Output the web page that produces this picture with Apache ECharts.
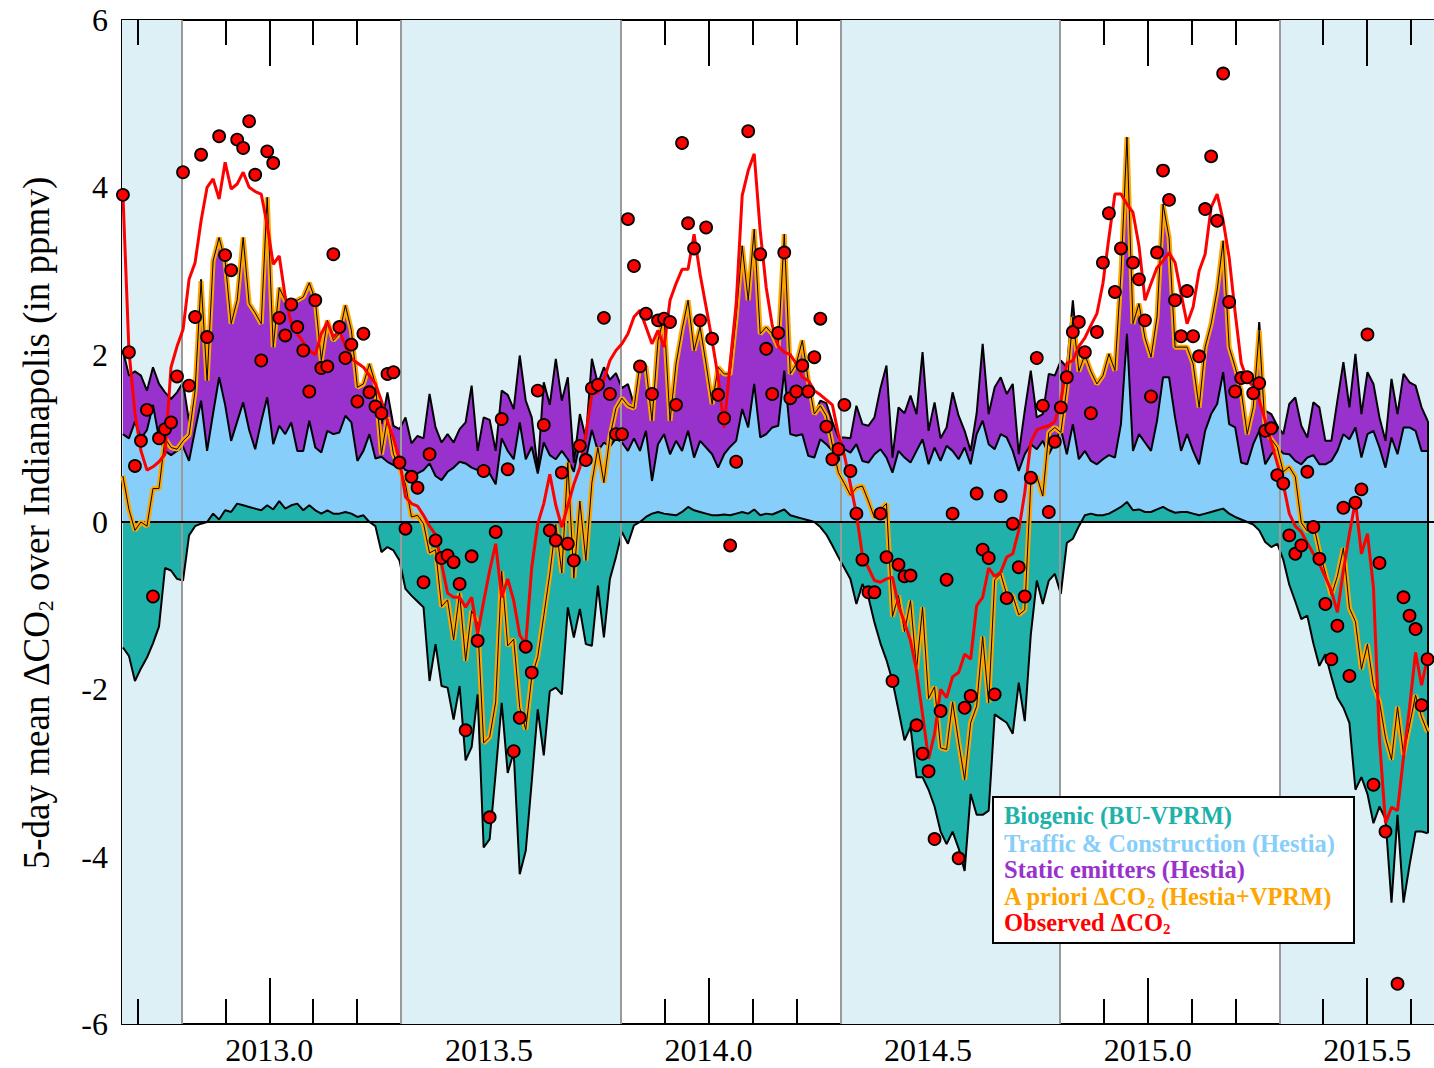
<!DOCTYPE html>
<html>
<head>
<meta charset="utf-8">
<title>5-day mean ΔCO2 over Indianapolis</title>
<script src="https://cdn.jsdelivr.net/npm/echarts@6/dist/echarts.min.js"></script>
<style>
  html, body { margin: 0; padding: 0; background: #ffffff; }
  #chart { width: 1434px; height: 1068px; }
</style>
</head>
<body>
<div id="chart"></div>
<script>
// ---- time grid: consecutive 5-day means starting 1 Sep 2012 ----
const START_YEAR = 2012.6667;
const STEP_YEARS = 5 / 365.25;

// ---- components of the a priori enhancement (ppmv) ----
const biogenic = [
  -1.50,-1.60,-1.90,-1.75,-1.62,-1.45,-1.25,-0.55,-0.58,-0.68,
  -0.70,-0.16,-0.05,-0.02,0.00,0.10,0.03,0.14,0.12,0.22,
  0.20,0.18,0.16,0.14,0.20,0.15,0.25,0.16,0.20,0.22,
  0.14,0.20,0.14,0.10,0.14,0.10,0.10,0.12,0.10,0.06,
  0.08,0.00,-0.05,-0.36,-0.30,-0.34,-0.46,-0.80,-0.88,-0.95,
  -1.02,-1.90,-1.46,-1.96,-1.98,-2.36,-1.96,-2.85,-2.69,-2.06,
  -3.89,-3.79,-3.00,-2.16,-3.00,-2.75,-4.21,-3.93,-3.10,-2.24,
  -2.79,-2.02,-1.98,-2.06,-1.02,-1.38,-1.04,-1.46,-1.48,-0.76,
  -1.38,-0.68,-0.42,-0.12,-0.26,-0.04,0.00,0.06,0.10,0.12,
  0.10,0.09,0.08,0.12,0.18,0.14,0.12,0.10,0.08,0.08,
  0.09,0.08,0.10,0.12,0.10,0.15,0.08,0.10,0.09,0.12,
  0.15,0.08,0.06,0.04,0.02,0.00,-0.06,-0.15,-0.28,-0.42,
  -0.55,-0.68,-0.98,-0.74,-0.90,-1.20,-1.45,-1.65,-1.90,-2.25,
  -2.61,-2.45,-3.05,-3.05,-3.20,-3.40,-3.70,-3.85,-3.70,-3.90,
  -4.17,-3.25,-3.50,-3.50,-3.45,-2.30,-2.35,-2.40,-2.53,-1.92,
  -2.38,-1.35,-0.70,-0.98,-0.70,-0.62,-0.86,-0.25,-0.20,-0.05,
  0.08,0.10,0.08,0.08,0.10,0.14,0.18,0.24,0.14,0.15,
  0.12,0.12,0.15,0.18,0.14,0.11,0.12,0.12,0.10,0.08,
  0.10,0.12,0.14,0.16,0.10,0.06,0.03,0.00,-0.03,-0.10,
  -0.24,-0.30,-0.26,-0.45,-0.75,-0.95,-1.16,-1.12,-1.45,-1.72,
  -1.58,-1.85,-2.10,-2.22,-2.40,-3.20,-3.05,-3.25,-3.60,-3.40,
  -3.55,-4.55,-3.50,-4.55,-4.10,-3.70,-3.70,-3.72
];

const traffic = [
  1.05,1.00,1.20,1.00,1.10,1.40,1.00,0.85,0.80,0.85,
  0.90,0.73,1.10,1.45,0.85,1.20,1.70,1.26,0.85,0.98,
  1.23,0.92,0.71,1.06,1.29,0.78,0.90,0.89,0.99,0.63,
  0.71,1.01,0.75,0.73,0.95,0.95,0.97,1.15,1.09,0.67,
  0.77,1.05,0.76,0.78,0.72,0.68,0.70,0.62,0.60,0.58,
  0.62,0.70,0.55,0.50,0.60,0.65,0.72,0.70,0.65,0.62,
  0.60,0.58,0.45,1.00,0.85,0.75,1.19,0.75,0.90,0.58,
  0.95,0.80,0.75,0.85,0.75,0.60,0.95,0.75,1.10,0.85,
  0.95,0.90,1.00,0.95,0.85,1.00,0.85,1.03,0.39,0.81,
  0.95,0.72,0.89,0.73,0.91,0.63,0.85,0.79,0.73,0.57,
  0.72,0.82,0.87,1.23,1.03,1.50,0.93,0.95,1.04,1.03,
  1.66,0.97,0.97,1.01,0.77,0.77,0.99,0.93,0.85,0.73,
  0.87,0.83,0.93,0.73,0.71,0.81,0.87,0.77,0.59,0.85,
  0.77,0.71,0.85,0.99,0.69,0.89,0.73,0.91,0.85,0.75,
  0.89,0.69,1.05,1.21,0.93,0.87,1.05,1.01,0.85,0.61,
  0.81,0.93,0.87,0.97,0.81,0.95,1.11,0.81,1.17,0.75,
  0.77,0.63,0.61,0.67,0.70,0.63,0.99,2.01,0.71,0.90,
  0.83,0.73,1.06,1.55,1.59,1.14,0.73,0.93,0.75,0.61,
  0.99,1.17,1.27,1.63,1.07,1.07,0.68,0.69,0.93,1.09,
  0.69,0.81,0.89,0.82,0.81,0.73,0.69,0.77,0.80,0.69,
  0.69,0.73,0.85,1.05,0.99,1.13,0.77,1.05,1.09,0.89,
  0.65,1.01,0.81,1.13,1.13,1.09,0.85,0.85
];

const staticEmitters = [
  1.00,0.75,0.60,0.75,0.47,0.45,0.65,0.70,0.67,0.70,
  0.77,0.47,0.52,1.45,0.84,1.82,1.67,1.72,1.40,1.45,
  1.97,1.51,1.63,1.17,2.39,1.16,1.65,1.60,1.42,1.80,
  1.84,1.65,1.76,1.10,1.32,1.12,1.18,1.32,1.10,0.88,
  0.80,0.84,0.94,0.39,0.83,0.47,0.41,0.63,0.34,0.45,
  0.38,0.83,0.58,0.45,0.45,0.30,0.39,0.49,0.98,0.23,
  0.65,0.64,0.40,0.57,0.67,0.60,0.80,0.70,0.35,0.05,
  0.72,0.60,1.20,0.60,0.98,0.11,0.34,0.25,0.85,0.80,
  0.90,0.80,0.78,0.65,0.80,0.40,1.04,0.76,0.72,1.24,
  1.40,0.40,0.92,1.45,1.56,1.28,1.36,1.00,0.60,1.20,
  0.96,0.87,1.48,1.95,1.52,1.85,1.24,1.28,1.12,0.94,
  1.63,0.72,0.86,1.12,0.90,0.52,0.46,0.49,0.35,0.28,
  0.14,0.17,0.46,0.44,0.44,0.44,0.73,1.10,0.18,0.52,
  0.53,0.80,0.44,1.04,0.40,0.54,0.27,0.22,0.70,0.52,
  0.20,0.16,0.25,0.92,0.36,0.74,0.68,0.52,0.80,0.20,
  0.52,0.88,0.38,0.32,0.96,0.80,0.82,1.04,1.48,1.10,
  1.15,1.07,0.96,1.00,1.21,1.04,1.79,2.35,1.52,1.56,
  1.25,1.12,1.24,2.07,1.67,0.84,1.24,1.04,1.04,0.68,
  1.00,1.08,1.36,1.57,0.92,0.72,0.86,0.36,0.47,1.30,
  0.64,0.48,0.26,0.23,0.60,0.76,0.46,0.24,0.63,0.68,
  0.28,0.24,0.60,0.86,0.38,0.88,0.52,0.74,0.56,0.36,
  0.32,0.70,0.48,0.64,0.54,0.54,0.52,0.36
];

// ---- observations: running curve and individual 5-day means (ppmv) ----
const observedCurve = [
  3.92,2.05,1.30,0.85,0.62,0.66,0.72,0.81,1.85,2.10,
  2.30,2.90,3.10,3.60,4.00,4.10,3.86,4.30,3.98,4.04,
  4.18,4.00,3.95,3.92,3.55,3.08,3.18,2.69,2.37,2.25,
  2.15,2.05,2.00,2.25,2.39,2.21,2.29,2.10,1.95,1.90,
  1.85,1.75,1.65,1.45,1.20,1.00,0.75,0.30,0.22,0.19,
  0.08,-0.05,-0.15,-0.50,-0.85,-0.90,-0.90,-1.02,-0.90,-1.34,
  -0.95,-0.58,-0.26,-0.90,-0.68,-0.94,-1.35,-1.46,-0.54,-0.02,
  0.22,0.57,0.20,-0.06,0.20,0.45,0.65,1.05,1.53,1.55,
  1.70,1.93,2.05,2.13,2.25,2.45,2.53,2.33,2.13,2.29,
  2.09,2.65,2.85,3.02,3.02,3.44,2.96,2.57,2.17,1.73,
  1.13,1.90,2.60,3.90,4.20,4.40,3.48,2.80,2.35,2.10,
  2.03,2.00,1.89,1.73,1.69,1.57,1.52,1.46,1.40,1.05,
  0.80,0.45,0.10,-0.40,-0.55,-0.70,-0.72,-0.68,-0.66,-1.00,
  -1.20,-1.42,-1.78,-2.30,-2.83,-2.53,-2.00,-2.10,-1.85,-1.80,
  -1.58,-1.64,-1.00,-0.90,-0.55,-0.65,-0.60,-0.42,-0.38,-0.10,
  0.35,0.95,1.10,1.13,1.15,1.20,1.45,1.90,1.93,2.10,
  2.20,2.35,2.49,2.85,3.40,3.92,3.92,3.80,3.70,3.30,
  2.65,2.85,3.04,3.12,3.22,3.10,2.73,2.37,2.57,3.00,
  3.20,3.76,3.92,3.60,3.16,2.50,1.90,1.70,1.62,1.45,
  1.21,0.95,0.70,0.45,0.10,-0.05,-0.12,-0.25,-0.38,-0.50,
  -0.66,-0.82,-1.08,-0.58,-0.14,0.25,-0.38,-0.14,-0.78,-2.60,
  -3.60,-3.41,-3.45,-2.81,-2.22,-1.56,-1.95,-1.62
];

const observedPoints = [
  3.91,2.03,0.67,0.97,1.34,-0.89,1.00,1.11,1.19,1.74,
  4.18,1.63,2.45,4.39,2.21,null,4.61,3.19,3.01,4.57,
  4.47,4.79,4.15,1.93,4.43,4.29,2.44,2.23,2.60,2.33,
  2.05,1.56,2.65,1.84,1.86,3.20,2.33,1.96,2.12,1.44,
  2.25,1.55,1.38,1.30,1.77,1.79,0.71,-0.08,0.54,0.41,
  -0.72,0.81,-0.22,-0.43,-0.40,-0.48,-0.74,-2.49,-0.41,-1.42,
  0.61,-3.53,-0.12,1.23,0.63,-2.74,-2.34,-1.49,-1.80,1.57,
  1.16,-0.10,-0.22,0.59,-0.26,-0.46,0.91,0.74,1.60,1.64,
  2.44,1.53,1.05,1.05,3.62,3.06,1.86,2.49,1.53,2.41,
  2.43,2.39,1.40,4.53,3.57,3.27,2.41,3.52,2.19,1.52,
  1.24,-0.28,0.72,null,4.67,null,3.20,2.07,1.53,2.26,
  3.22,1.48,1.56,1.87,1.56,1.97,2.43,1.14,0.75,0.87,
  1.40,0.61,0.10,-0.45,-0.84,-0.84,0.10,-0.42,-1.90,-0.51,
  -0.65,-0.64,-2.43,-2.77,-2.98,-3.79,-2.26,-0.69,0.10,-4.02,
  -2.22,-2.08,0.34,-0.33,-0.43,-2.06,0.31,-0.91,-0.02,-0.54,
  -0.89,0.53,1.96,1.39,0.12,0.96,1.37,1.73,2.27,2.39,
  2.03,1.30,2.27,3.10,3.69,2.75,3.27,null,3.10,2.90,
  2.41,1.50,3.22,4.20,3.85,2.65,2.22,2.76,2.22,1.98,
  3.74,4.37,3.60,5.36,2.63,1.56,1.72,1.73,1.54,1.66,
  1.09,1.12,0.56,0.46,-0.16,-0.38,-0.28,0.60,-0.06,-0.44,
  -0.98,-1.64,-1.24,0.17,-1.84,0.23,0.39,2.24,-3.14,-0.49,
  -3.70,null,-5.52,-0.90,-1.12,-1.28,-2.19,-1.64
];

// ---- axes ----
const X_MIN = 2012.6646;
const X_MAX = 2015.6519;
const yearLabels = [2013.0, 2013.5, 2014.0, 2014.5, 2015.0, 2015.5];
const yTickLabels = [-6, -4, -2, 0, 2, 4, 6];
// growing-season (May-Oct) shading and its edges
const seasonEdges = [2012.8, 2013.3, 2013.8, 2014.3, 2014.8, 2015.3];
const seasonBands = [[X_MIN, 2012.8], [2013.3, 2013.8], [2014.3, 2014.8], [2015.3, X_MAX]];

const TEAL = '#20B2AA';
const SKY = '#87CEFA';
const PURPLE = '#9932CC';
const ORANGE = '#FFA500';
const RED = '#FF0000';
const BAND = '#DDF0F5';
const SERIF = '"Liberation Serif", "Times New Roman", Times, serif';
const MINOR_LEN = 25;
const MAJOR_LEN = 46;

// tenth-of-a-year ticks, 2012.7 ... 2015.6, padded with the axis ends
const minorYearTicks = [X_MIN];
for (let n = 127; n <= 156; n++) minorYearTicks.push(+(2000 + n / 10).toFixed(1));
minorYearTicks.push(X_MAX);
const majorYearTicks = [X_MIN].concat(yearLabels, [X_MAX]);

const times = biogenic.map((_, i) => START_YEAR + i * STEP_YEARS);
const pair = arr => arr.map((v, i) => [times[i], v]);

// positive contributions are stacked on each other; negative biogenic uptake hangs below zero
const trafficTop = traffic.map((v, i) => Math.max(biogenic[i], 0) + v);
const staticTop = staticEmitters.map((v, i) => trafficTop[i] + v);
const aPriori = biogenic.map((v, i) => v + traffic[i] + staticEmitters[i]);
const pointData = observedPoints
  .map((v, i) => (v == null ? null : [times[i], v]))
  .filter(Boolean);
const last = times.length - 1;

const tickLine = { color: '#000', width: 2 };

function xAxisDef(position, ticks, length, withLine, withLabels) {
  return {
    type: 'value', position, min: X_MIN, max: X_MAX,
    axisLine: { show: withLine, onZero: false, lineStyle: tickLine },
    axisTick: { show: true, inside: true, length, lineStyle: tickLine, customValues: ticks },
    axisLabel: withLabels
      ? { show: true, customValues: yearLabels, formatter: v => Number(v).toFixed(1),
          fontSize: 32, fontFamily: SERIF, color: '#000', margin: 10 }
      : { show: false },
    splitLine: { show: false }
  };
}

function yAxisDef(position, withLabels, majorLen, minorLen, withLine) {
  return {
    type: 'value', position, min: -6, max: 6, interval: 2,
    axisLine: { show: withLine, onZero: false, lineStyle: tickLine },
    axisTick: { show: true, inside: true, length: majorLen, lineStyle: tickLine },
    minorTick: { show: true, splitNumber: 4, length: minorLen, lineStyle: tickLine },
    axisLabel: withLabels
      ? { show: true, customValues: yTickLabels, fontSize: 32, fontFamily: SERIF, color: '#000', margin: 14 }
      : { show: false },
    splitLine: { show: false },
    minorSplitLine: { show: false }
  };
}

function legendLine(id, y, text, color) {
  return {
    id, type: 'text', x: 1004, y, z: 101,
    style: {
      text, fill: color, font: 'bold 24.5px ' + SERIF,
      align: 'left', verticalAlign: 'middle', lineHeight: 28,
      rich: { s: { fill: color, fontSize: 15, fontWeight: 'bold', fontFamily: SERIF, lineHeight: 13, verticalAlign: 'bottom' } }
    }
  };
}

const chart = echarts.init(document.getElementById('chart'), null, { renderer: 'svg' });

chart.setOption({
  animation: false,
  backgroundColor: '#ffffff',
  grid: { left: 122, top: 20, right: 0, bottom: 44, containLabel: false },
  xAxis: [
    xAxisDef('bottom', majorYearTicks, MAJOR_LEN, true, true),
    xAxisDef('bottom', minorYearTicks, MINOR_LEN, false, false),
    xAxisDef('top', majorYearTicks, MAJOR_LEN, true, false),
    xAxisDef('top', minorYearTicks, MINOR_LEN, false, false)
  ],
  yAxis: [yAxisDef('left', true, 48, 25, true), yAxisDef('right', false, 41, 18, false)],
  series: [
    {
      name: 'season', type: 'line', data: [], z: 0, silent: true,
      markArea: {
        silent: true, itemStyle: { color: BAND },
        data: seasonBands.map(([a, b]) => [{ xAxis: a }, { xAxis: b }])
      },
      markLine: {
        silent: true, symbol: 'none', label: { show: false },
        lineStyle: { color: '#9a9a9a', width: 2, type: 'solid' },
        data: seasonEdges.map(x => ({ xAxis: x }))
      }
    },
    {
      name: 'Static emitters (Hestia)', type: 'line', data: pair(staticTop), z: 1,
      symbol: 'none', silent: true,
      lineStyle: { color: '#000', width: 2 },
      areaStyle: { color: PURPLE, opacity: 1, origin: 'auto' }
    },
    {
      name: 'Traffic & Construction (Hestia)', type: 'line', data: pair(trafficTop), z: 2,
      symbol: 'none', silent: true,
      lineStyle: { color: '#000', width: 2 },
      areaStyle: { color: SKY, opacity: 1, origin: 'auto' }
    },
    {
      name: 'Biogenic (BU-VPRM)', type: 'line', data: pair(biogenic), z: 3,
      symbol: 'none', silent: true,
      lineStyle: { color: '#000', width: 2 },
      areaStyle: { color: TEAL, opacity: 1, origin: 'auto' },
      markLine: {
        silent: true, symbol: 'none', label: { show: false },
        lineStyle: { color: '#000', width: 2, type: 'solid' },
        data: [
          { yAxis: 0 },
          // closing edge of the stacked polygons at the last 5-day window
          [{ coord: [times[last], biogenic[last]] }, { coord: [times[last], staticTop[last]] }]
        ]
      }
    },
    {
      name: 'A priori', type: 'line', data: pair(aPriori), z: 5,
      symbol: 'none', silent: true,
      lineStyle: { color: ORANGE, width: 5 }
    },
    {
      name: 'A priori core', type: 'line', data: pair(aPriori), z: 6,
      symbol: 'none', silent: true,
      lineStyle: { color: '#000', width: 1 }
    },
    {
      name: 'Observed', type: 'line', data: pair(observedCurve), z: 7,
      symbol: 'none', silent: true,
      lineStyle: { color: RED, width: 3 }
    },
    {
      name: 'Observed 5-day', type: 'scatter', data: pointData, z: 8,
      symbol: 'circle', symbolSize: 12, silent: true,
      itemStyle: { color: RED, borderColor: '#000', borderWidth: 1.8, opacity: 1 }
    }
  ],
  graphic: [
    {
      id: 'ytitle', type: 'text', x: 36, y: 523, rotation: Math.PI / 2, z: 50,
      style: {
        text: '5-day mean ΔCO{s|2} over Indianapolis (in ppmv)',
        fill: '#000', font: '37px ' + SERIF,
        align: 'center', verticalAlign: 'middle', lineHeight: 40,
        rich: { s: { fill: '#000', fontSize: 22, fontFamily: SERIF, lineHeight: 18, verticalAlign: 'bottom' } }
      }
    },
    {
      id: 'legendBox', type: 'rect', z: 100,
      shape: { x: 993, y: 797, width: 361, height: 146 },
      style: { fill: '#ffffff', stroke: '#000', lineWidth: 2 }
    },
    legendLine('lg0', 815, 'Biogenic (BU-VPRM)', TEAL),
    legendLine('lg1', 843, 'Traffic & Construction (Hestia)', SKY),
    legendLine('lg2', 869, 'Static emitters (Hestia)', PURPLE),
    legendLine('lg3', 896, 'A priori ΔCO{s|2} (Hestia+VPRM)', ORANGE),
    legendLine('lg4', 922, 'Observed ΔCO{s|2}', RED)
  ]
});

// tenth-year ticks near both ends of the axis, placed through the axis scale
const yBottom = chart.convertToPixel({ yAxisIndex: 0 }, -6);
const yTop = chart.convertToPixel({ yAxisIndex: 0 }, 6);
const edgeTicks = minorYearTicks.filter(v =>
  (v > X_MIN && v < seasonEdges[0]) || (v > seasonEdges[seasonEdges.length - 1] && v < X_MAX));
const tickEls = [];
edgeTicks.forEach((v, k) => {
  const x = Math.round(chart.convertToPixel({ xAxisIndex: 0 }, v));
  const len = yearLabels.indexOf(v) >= 0 ? MAJOR_LEN : MINOR_LEN;
  tickEls.push({ id: 'tb' + k, type: 'line', z: 60, silent: true,
    shape: { x1: x, y1: yBottom, x2: x, y2: yBottom - len }, style: { stroke: '#000', lineWidth: 2 } });
  tickEls.push({ id: 'tt' + k, type: 'line', z: 60, silent: true,
    shape: { x1: x, y1: yTop, x2: x, y2: yTop + len }, style: { stroke: '#000', lineWidth: 2 } });
});
chart.setOption({ graphic: tickEls });
</script>
</body>
</html>
